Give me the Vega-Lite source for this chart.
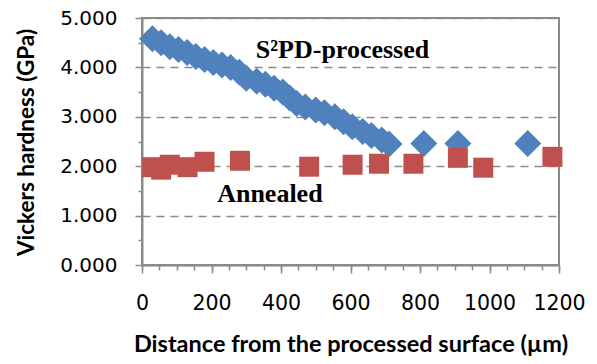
{
  "$schema": "https://vega.github.io/schema/vega-lite/v6.json",
  "width": 417,
  "height": 247,
  "autosize": {"type": "none"},
  "padding": {"left": 142, "top": 18, "right": 38, "bottom": 99},
  "background": "white",
  "config": {
    "view": {"stroke": "#8a8a8a", "strokeWidth": 2},
    "axis": {"domainColor": "#8a8a8a", "domainWidth": 2, "tickColor": "#8a8a8a", "tickWidth": 1.5}
  },
  "datasets": {
    "s2pd": [
      {"d": 30, "hv": 4.58}, {"d": 55, "hv": 4.50}, {"d": 80, "hv": 4.42}, {"d": 105, "hv": 4.36},
      {"d": 130, "hv": 4.30}, {"d": 155, "hv": 4.22}, {"d": 180, "hv": 4.16}, {"d": 205, "hv": 4.10},
      {"d": 230, "hv": 4.05}, {"d": 255, "hv": 4.00}, {"d": 280, "hv": 3.90}, {"d": 300, "hv": 3.78},
      {"d": 330, "hv": 3.72}, {"d": 355, "hv": 3.66}, {"d": 380, "hv": 3.58}, {"d": 405, "hv": 3.50},
      {"d": 425, "hv": 3.38}, {"d": 445, "hv": 3.27}, {"d": 470, "hv": 3.20}, {"d": 500, "hv": 3.14},
      {"d": 525, "hv": 3.08}, {"d": 555, "hv": 3.00}, {"d": 580, "hv": 2.90}, {"d": 605, "hv": 2.80},
      {"d": 635, "hv": 2.70}, {"d": 660, "hv": 2.62}, {"d": 690, "hv": 2.53}, {"d": 711, "hv": 2.45},
      {"d": 811, "hv": 2.46}, {"d": 909, "hv": 2.46}, {"d": 1110, "hv": 2.46}
    ],
    "annealed": [
      {"d": 29, "hv": 1.98}, {"d": 55, "hv": 1.93}, {"d": 80, "hv": 2.03}, {"d": 131, "hv": 1.98},
      {"d": 180, "hv": 2.09}, {"d": 282, "hv": 2.11}, {"d": 481, "hv": 1.99}, {"d": 606, "hv": 2.03},
      {"d": 682, "hv": 2.05}, {"d": 781, "hv": 2.05}, {"d": 909, "hv": 2.17}, {"d": 982, "hv": 1.97},
      {"d": 1181, "hv": 2.19}
    ],
    "labels": [
      {"d": 577, "hv": 4.184, "text": "S²PD-processed"},
      {"d": 368, "hv": 1.281, "text": "Annealed"}
    ]
  },
  "resolve": {"axis": {"x": "independent", "y": "independent"}},
  "layer": [
    {
      "data": {"name": "s2pd"},
      "mark": {"type": "point", "shape": "diamond", "filled": true, "size": 729, "color": "#4F81BD", "opacity": 1},
      "encoding": {
        "x": {"field": "d", "type": "quantitative", "scale": {"domain": [0, 1200], "nice": false, "zero": false},
          "axis": {"orient": "bottom", "values": [0, 200, 400, 600, 800, 1000, 1200], "format": "d", "tickSize": 8, "labelPadding": 20,
            "labelFont": "DejaVu Sans", "labelFontSize": 20.5, "labelColor": "#000000", "labelFlush": false, "labelOverlap": false,
            "grid": false, "title": "Distance from the processed surface (µm)", "titleFont": "Lato", "titleFontWeight": "bold",
            "titleFontSize": 23.5, "titleColor": "#000000", "titleBaseline": "alphabetic", "titleY": 86}},
        "y": {"field": "hv", "type": "quantitative", "scale": {"domain": [0, 5], "nice": false},
          "axis": {"orient": "left", "values": [0, 1, 2, 3, 4, 5], "format": ".3f", "tickSize": 7, "labelPadding": 18,
            "labelFont": "DejaVu Sans", "labelFontSize": 20, "labelColor": "#000000", "labelFlush": false, "labelOverlap": false,
            "grid": true, "gridColor": "#8a8a8a", "gridWidth": 1.5, "gridDash": [8, 6],
            "title": "Vickers hardness (GPa)", "titleFont": "Lato", "titleFontWeight": "bold", "titleFontSize": 22.5,
            "titleColor": "#000000", "titleBaseline": "alphabetic", "titleX": -109, "titleY": 124, "titleAngle": -90}}
      }
    },
    {
      "data": {"name": "annealed"},
      "mark": {"type": "point", "shape": "square", "filled": true, "size": 400, "color": "#C0504D", "opacity": 1},
      "encoding": {
        "x": {"field": "d", "type": "quantitative",
          "axis": {"orient": "bottom", "values": [0, 50, 100, 150, 200, 250, 300, 350, 400, 450, 500, 550, 600, 650, 700, 750, 800, 850, 900, 950, 1000, 1050, 1100, 1150, 1200],
            "tickSize": 5, "labels": false, "domain": false, "grid": false, "title": null}},
        "y": {"field": "hv", "type": "quantitative",
          "axis": {"orient": "left", "values": [0.5, 1.5, 2.5, 3.5, 4.5], "tickSize": 4, "labels": false, "domain": false, "grid": false, "title": null}}
      }
    },
    {
      "data": {"name": "labels"},
      "mark": {"type": "text", "font": "Liberation Serif", "fontWeight": "bold", "fontSize": 26, "align": "center", "baseline": "alphabetic", "color": "#000000"},
      "encoding": {
        "x": {"field": "d", "type": "quantitative", "axis": null},
        "y": {"field": "hv", "type": "quantitative", "axis": null},
        "text": {"field": "text"}
      }
    }
  ]
}
